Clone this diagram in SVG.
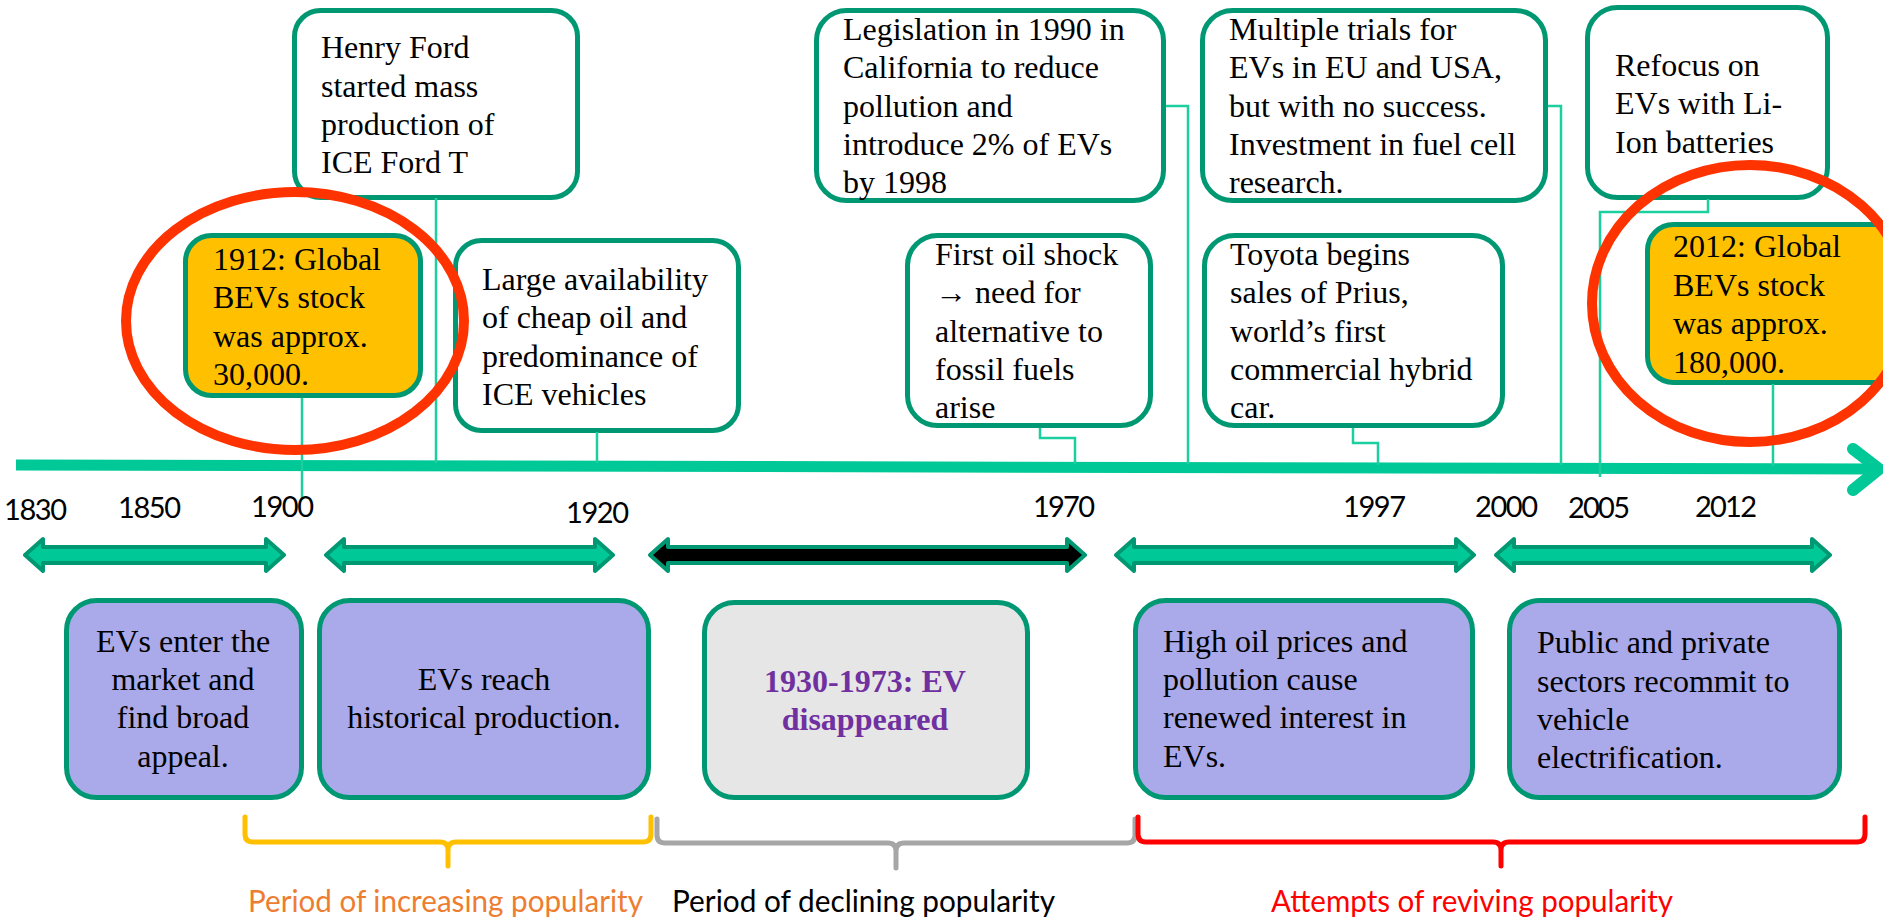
<svg xmlns="http://www.w3.org/2000/svg" width="1883" height="923" viewBox="0 0 1883 923">
<style>
.box{fill:#ffffff;stroke:#009872;stroke-width:5}
.gold{fill:#ffc000;stroke:#009872;stroke-width:5}
.lav{fill:#aaaaea;stroke:#009872;stroke-width:5}
.grey{fill:#e6e6e6;stroke:#009872;stroke-width:5}
.t{font-family:"Liberation Serif","Times New Roman",serif;font-size:32px;fill:#000}
.c{text-anchor:middle}
.purple{fill:#7030a0;font-weight:bold}
.yr{font-family:Lato,"Liberation Sans",sans-serif;font-size:29px;fill:#000}
.lbl{font-family:Lato,"Liberation Sans",sans-serif;font-size:30px}
.con{fill:none;stroke:#1ccf9f;stroke-width:2.5}
.dbl{fill:#00c896;stroke:#009872;stroke-width:4;stroke-linejoin:round}
.br{fill:none;stroke-width:5;stroke-linecap:round;stroke-linejoin:round}
.ring{fill:none;stroke:#ff3300;stroke-width:10}
</style>

<!-- axis -->
<g id="axis">
<line x1="16" y1="465" x2="1874" y2="469" stroke="#00c896" stroke-width="11"/>
<polyline points="1853,449 1879,469 1853,490" fill="none" stroke="#00c896" stroke-width="12" stroke-linecap="round" stroke-linejoin="round"/>
</g>

<!-- top nodes -->
<g id="henry-ford">
<rect class="box" x="294.5" y="10.5" width="283" height="187" rx="26"/>
<text class="t" x="321" y="58">Henry Ford</text>
<text class="t" x="321" y="97">started mass</text>
<text class="t" x="321" y="135">production of</text>
<text class="t" x="321" y="173">ICE Ford T</text>
</g>

<g id="bev-1912">
<rect class="gold" x="185.5" y="235.5" width="235" height="160" rx="26"/>
<text class="t" x="213" y="270">1912: Global</text>
<text class="t" x="213" y="308">BEVs stock</text>
<text class="t" x="213" y="347">was approx.</text>
<text class="t" x="213" y="385">30,000.</text>
</g>

<g id="cheap-oil">
<rect class="box" x="455.5" y="240.5" width="283" height="190" rx="26"/>
<text class="t" x="482" y="290">Large availability</text>
<text class="t" x="482" y="328">of cheap oil and</text>
<text class="t" x="482" y="367">predominance of</text>
<text class="t" x="482" y="405">ICE vehicles</text>
</g>

<g id="legislation">
<rect class="box" x="816.5" y="10.5" width="347" height="190" rx="30"/>
<text class="t" x="843" y="40">Legislation in 1990 in</text>
<text class="t" x="843" y="78">California to reduce</text>
<text class="t" x="843" y="117">pollution and</text>
<text class="t" x="843" y="155">introduce 2% of EVs</text>
<text class="t" x="843" y="193">by 1998</text>
</g>

<g id="oil-shock">
<rect class="box" x="907.5" y="235.5" width="243" height="190" rx="30"/>
<text class="t" x="935" y="265">First oil shock</text>
<text class="t" x="935" y="303">→ need for</text>
<text class="t" x="935" y="342">alternative to</text>
<text class="t" x="935" y="380">fossil fuels</text>
<text class="t" x="935" y="418">arise</text>
</g>

<g id="trials">
<rect class="box" x="1202.5" y="10.5" width="343" height="190" rx="30"/>
<text class="t" x="1229" y="40">Multiple trials for</text>
<text class="t" x="1229" y="78">EVs in EU and USA,</text>
<text class="t" x="1229" y="117">but with no success.</text>
<text class="t" x="1229" y="155">Investment in fuel cell</text>
<text class="t" x="1229" y="193">research.</text>
</g>

<g id="toyota">
<rect class="box" x="1204.5" y="235.5" width="298" height="190" rx="30"/>
<text class="t" x="1230" y="265">Toyota begins</text>
<text class="t" x="1230" y="303">sales of Prius,</text>
<text class="t" x="1230" y="342">world’s first</text>
<text class="t" x="1230" y="380">commercial hybrid</text>
<text class="t" x="1230" y="418">car.</text>
</g>

<g id="refocus">
<rect class="box" x="1587.5" y="7.5" width="240" height="190" rx="30"/>
<text class="t" x="1615" y="76">Refocus on</text>
<text class="t" x="1615" y="114">EVs with Li-</text>
<text class="t" x="1615" y="153">Ion batteries</text>
</g>

<g id="bev-2012">
<rect class="gold" x="1647.5" y="224.5" width="260" height="158" rx="26"/>
<text class="t" x="1673" y="257">2012: Global</text>
<text class="t" x="1673" y="296">BEVs stock</text>
<text class="t" x="1673" y="334">was approx.</text>
<text class="t" x="1673" y="373">180,000.</text>
</g>

<!-- connectors -->
<g id="connectors">
<polyline class="con" points="436,198 436,463"/>
<polyline class="con" points="302,398 302,500"/>
<polyline class="con" points="597,432 597,463"/>
<polyline class="con" points="1040,428 1040,438 1075,438 1075,464"/>
<polyline class="con" points="1166,106 1188,106 1188,464"/>
<polyline class="con" points="1353,428 1353,443 1378,443 1378,465"/>
<polyline class="con" points="1548,106 1561,106 1561,465"/>
<polyline class="con" points="1708,199 1708,212 1600,212 1600,477"/>
<polyline class="con" points="1773,384 1773,466"/>
</g>

<!-- highlight rings -->
<g id="highlight-1912">
<ellipse class="ring" cx="295" cy="321" rx="169" ry="129"/>
</g>
<g id="highlight-2012">
<ellipse class="ring" cx="1750" cy="303.5" rx="158" ry="138.5"/>
</g>

<!-- year labels -->
<g id="years">
<text class="yr" x="4" y="520" textLength="63">1830</text>
<text class="yr" x="118" y="518" textLength="63">1850</text>
<text class="yr" x="251" y="517" textLength="63">1900</text>
<text class="yr" x="566" y="523" textLength="63">1920</text>
<text class="yr" x="1033" y="517" textLength="62">1970</text>
<text class="yr" x="1343" y="517" textLength="63">1997</text>
<text class="yr" x="1475" y="517" textLength="63">2000</text>
<text class="yr" x="1568" y="518" textLength="62">2005</text>
<text class="yr" x="1695" y="517" textLength="62">2012</text>
</g>

<!-- period double arrows -->
<g id="period-arrows">
<path class="dbl" d="M25,555 L43,539 L43,547 L266,547 L266,539 L284,555 L266,571 L266,563 L43,563 L43,571 Z"/>
<path class="dbl" d="M326,555 L344,539 L344,547 L595,547 L595,539 L613,555 L595,571 L595,563 L344,563 L344,571 Z"/>
<path class="dbl" style="fill:#000" d="M650,555 L668,539 L668,547 L1067,547 L1067,539 L1085,555 L1067,571 L1067,563 L668,563 L668,571 Z"/>
<path class="dbl" d="M1116,555 L1134,539 L1134,547 L1456,547 L1456,539 L1474,555 L1456,571 L1456,563 L1134,563 L1134,571 Z"/>
<path class="dbl" d="M1496,555 L1514,539 L1514,547 L1812,547 L1812,539 L1830,555 L1812,571 L1812,563 L1514,563 L1514,571 Z"/>
</g>

<!-- bottom nodes -->
<g id="enter-market">
<rect class="lav" x="66.5" y="600.5" width="235" height="197" rx="30"/>
<text class="t c" x="183" y="652">EVs enter the</text>
<text class="t c" x="183" y="690">market and</text>
<text class="t c" x="183" y="728">find broad</text>
<text class="t c" x="183" y="767">appeal.</text>
</g>

<g id="historical-production">
<rect class="lav" x="319.5" y="600.5" width="329" height="197" rx="30"/>
<text class="t c" x="484" y="690">EVs reach</text>
<text class="t c" x="484" y="728">historical production.</text>
</g>

<g id="disappeared">
<rect class="grey" x="704.5" y="602.5" width="323" height="195" rx="30"/>
<text class="t c purple" x="865" y="692">1930-1973: EV</text>
<text class="t c purple" x="865" y="730">disappeared</text>
</g>

<g id="renewed-interest">
<rect class="lav" x="1135.5" y="600.5" width="337" height="197" rx="30"/>
<text class="t" x="1163" y="652">High oil prices and</text>
<text class="t" x="1163" y="690">pollution cause</text>
<text class="t" x="1163" y="728">renewed interest in</text>
<text class="t" x="1163" y="767">EVs.</text>
</g>

<g id="recommit">
<rect class="lav" x="1509.5" y="600.5" width="330" height="197" rx="30"/>
<text class="t" x="1537" y="653">Public and private</text>
<text class="t" x="1537" y="692">sectors recommit to</text>
<text class="t" x="1537" y="730">vehicle</text>
<text class="t" x="1537" y="768">electrification.</text>
</g>

<!-- period brackets -->
<g id="bracket-increasing">
<path class="br" stroke="#ffc000" d="M245,817 L245,834 Q245,842 253,842 L440,842 Q448,842 448,850 L448,866 M448,850 Q448,842 456,842 L643,842 Q651,842 651,834 L651,817"/>
<text class="lbl" x="248" y="912" fill="#ed7d31" textLength="395" lengthAdjust="spacingAndGlyphs">Period of increasing popularity</text>
</g>
<g id="bracket-declining">
<path class="br" stroke="#a6a6a6" d="M657,819 L657,835 Q657,843 665,843 L888,843 Q896,843 896,851 L896,868 M896,851 Q896,843 904,843 L1127,843 Q1135,843 1135,835 L1135,819"/>
<text class="lbl" x="672" y="912" fill="#000000" textLength="383" lengthAdjust="spacingAndGlyphs">Period of declining popularity</text>
</g>
<g id="bracket-reviving">
<path class="br" stroke="#ff0000" d="M1138,817 L1138,834 Q1138,842 1146,842 L1493,842 Q1501,842 1501,850 L1501,866 M1501,850 Q1501,842 1509,842 L1857,842 Q1865,842 1865,834 L1865,817"/>
<text class="lbl" x="1271" y="912" fill="#ff0000" textLength="402" lengthAdjust="spacingAndGlyphs">Attempts of reviving popularity</text>
</g>
</svg>
